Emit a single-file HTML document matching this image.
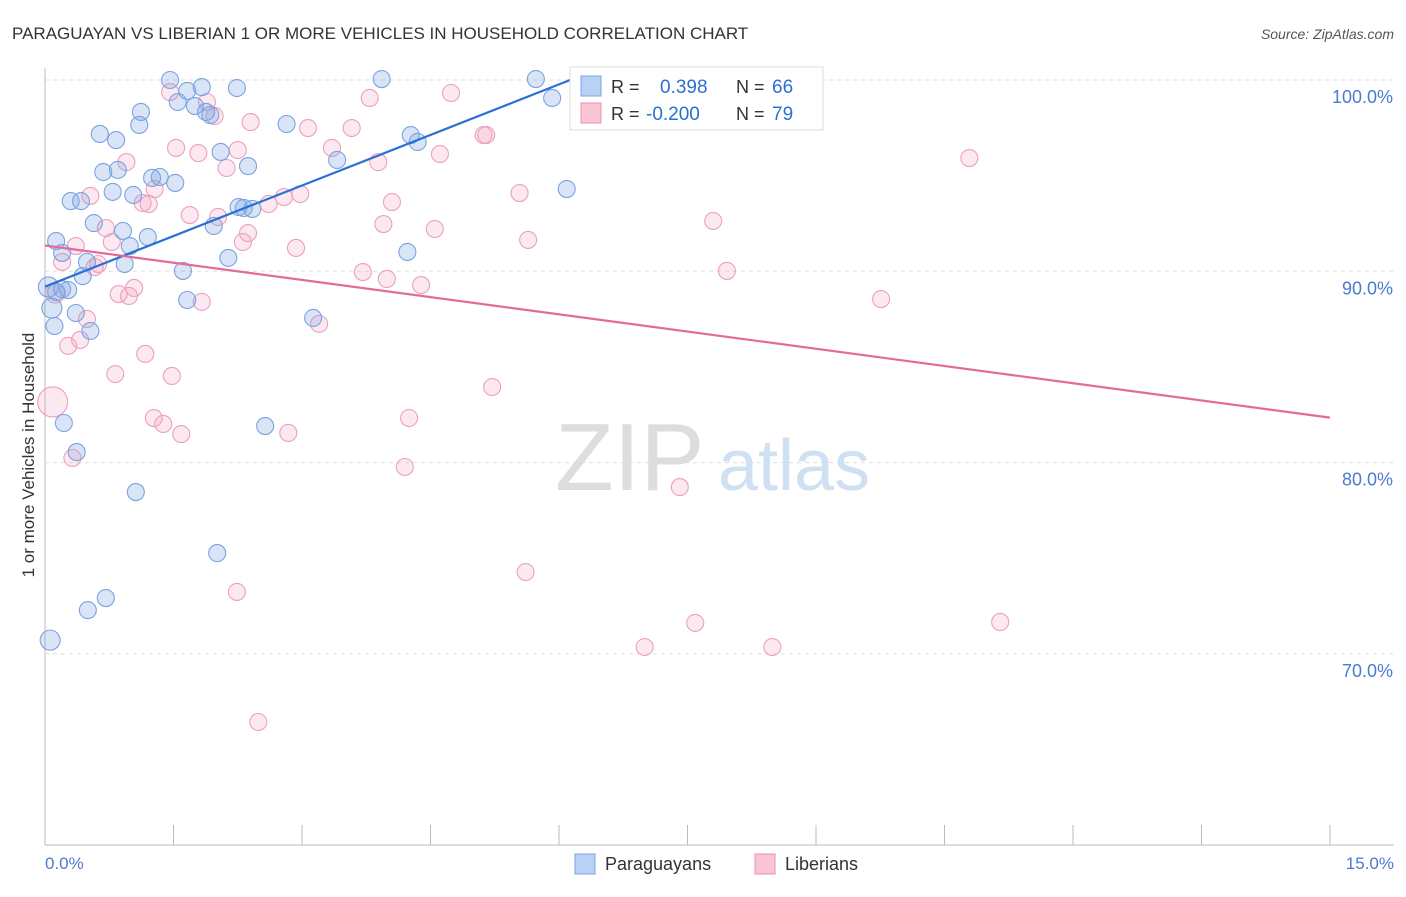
<!DOCTYPE html>
<html><head><meta charset="utf-8"><style>
body{margin:0;background:#fff;font-family:"Liberation Sans",sans-serif}
svg text{font-family:"Liberation Sans",sans-serif}
</style></head><body>
<svg id="chart" width="1406" height="892" xmlns="http://www.w3.org/2000/svg">
<text x="12" y="39" font-size="17" fill="#333">PARAGUAYAN VS LIBERIAN 1 OR MORE VEHICLES IN HOUSEHOLD CORRELATION CHART</text>
<text x="1394" y="39" font-size="14" fill="#555" font-style="italic" text-anchor="end">Source: ZipAtlas.com</text>
<g id="grid"></g>
<g>
<text x="555" y="490" font-size="96" fill="#ddd" font-family="Liberation Serif">ZIP</text>
<text x="718" y="490" font-size="72" fill="#cfe0f3">atlas</text>
</g>
<g id="pts"></g>
<g id="lines"></g>
<text transform="translate(34,455) rotate(-90)" font-size="17" fill="#333" text-anchor="middle">1 or more Vehicles in Household</text>
<text x="45" y="869" font-size="17" fill="#4a7bd0">0.0%</text>
<text x="1394" y="869" font-size="17" fill="#4a7bd0" text-anchor="end">15.0%</text>
<g>
<rect x="570" y="67" width="253" height="63" fill="#fff" stroke="#ddd"/>
<rect x="581" y="76" width="20" height="20" fill="#b8d1f5" stroke="#7aa3e0"/>
<rect x="581" y="103" width="20" height="20" fill="#f9c5d5" stroke="#e890b0"/>
<text x="611" y="93" font-size="18" fill="#333">R = </text><text x="660" y="93" font-size="19" fill="#2a6fd6">0.398</text>
<text x="736" y="93" font-size="18" fill="#333">N = </text><text x="772" y="93" font-size="19" fill="#2a6fd6">66</text>
<text x="611" y="120" font-size="18" fill="#333">R = </text><text x="646" y="120" font-size="19" fill="#2a6fd6">-0.200</text>
<text x="736" y="120" font-size="18" fill="#333">N = </text><text x="772" y="120" font-size="19" fill="#2a6fd6">79</text>
</g>
<g>
<rect x="575" y="854" width="20" height="20" fill="#b8d1f5" stroke="#7aa3e0"/>
<text x="605" y="870" font-size="18" fill="#333">Paraguayans</text>
<rect x="755" y="854" width="20" height="20" fill="#f9c5d5" stroke="#e890b0"/>
<text x="785" y="870" font-size="18" fill="#333">Liberians</text>
</g>
</svg>
<script>
const yTicks=[100,90,80,70];
const xTicks=[0,1.5,3,4.5,6,7.5,9,10.5,12,13.5,15];
const blueX=[1.46,1.83,1.66,2.24,3.93,5.73,6.90,1.55,1.75,1.88,1.93,1.12,1.10,2.82,0.64,0.83,5.92,4.27,4.35,2.05,2.37,3.41,0.68,0.85,1.25,1.34,1.52,6.09,0.79,1.03,0.30,0.42,2.26,2.42,2.32,0.57,1.97,0.91,1.20,0.13,0.99,0.20,4.23,2.14,0.49,0.93,1.61,0.44,0.04,0.20,0.27,0.13,0.08,0.36,1.66,3.13,0.11,0.53,0.22,2.57,0.37,1.06,2.01,0.71,0.50,0.06];
const blueY=[100.0,99.63,99.43,99.58,100.05,100.05,100.05,98.85,98.64,98.33,98.17,98.33,97.65,97.70,97.18,96.86,99.06,97.12,96.76,96.24,95.50,95.82,95.19,95.30,94.88,94.93,94.62,94.30,94.15,93.99,93.67,93.67,93.36,93.26,93.31,92.52,92.37,92.11,91.79,91.58,91.32,90.96,91.01,90.70,90.49,90.38,90.02,89.75,89.18,89.07,89.02,88.92,88.08,87.82,88.50,87.56,87.14,86.88,82.07,81.91,80.55,78.46,75.27,72.92,72.29,70.72];
const pinkX=[1.46,1.89,1.98,3.79,4.74,2.40,3.07,3.58,1.53,1.79,2.25,3.35,0.95,3.89,4.61,5.12,5.15,10.79,2.12,1.28,0.53,1.14,1.21,2.61,2.79,2.98,4.05,5.54,1.69,2.02,3.95,4.55,7.80,0.71,2.37,2.31,0.78,2.93,5.64,0.36,0.20,0.62,0.58,7.96,3.71,3.99,4.39,1.04,0.86,0.98,1.83,9.76,0.12,0.49,3.20,0.41,0.27,1.17,0.82,1.48,5.22,0.09,1.27,1.38,1.59,2.84,4.25,0.32,4.20,7.41,5.61,2.24,7.59,11.15,7.00,8.49,2.49];
const pinkY=[99.37,98.85,98.12,99.06,99.32,97.80,97.49,97.49,96.45,96.18,96.34,96.45,95.71,95.71,96.13,97.12,97.12,95.92,95.40,94.30,93.94,93.57,93.52,93.52,93.88,94.04,93.62,94.09,92.94,92.84,92.47,92.21,92.63,92.26,92.00,91.53,91.53,91.22,91.64,91.32,90.49,90.38,90.22,90.02,89.96,89.60,89.28,89.13,88.81,88.71,88.40,88.55,88.87,87.51,87.25,86.41,86.10,85.68,84.63,84.53,83.95,83.17,82.33,82.02,81.49,81.55,82.33,80.24,79.77,78.72,74.28,73.24,71.62,71.67,70.36,70.36,66.44];
const blueTrendX=[0,6.13];
const blueTrendY=[89.2,100];
const pinkTrendX=[0,15];
const pinkTrendY=[91.35,82.35];
const NS='http://www.w3.org/2000/svg';
const X=v=>45+v*(1285/15);
const Y=v=>80+(100-v)*19.13;
function mk(t,a,p){const e=document.createElementNS(NS,t);for(const k in a)e.setAttribute(k,a[k]);p.appendChild(e);return e;}
const g=document.getElementById('grid');
mk('line',{x1:45,y1:68,x2:45,y2:845,stroke:'#bbb'},g);
mk('line',{x1:45,y1:845,x2:1394,y2:845,stroke:'#bbb'},g);
yTicks.forEach(t=>{
 const l=mk('line',{x1:45,y1:Y(t),x2:1394,y2:Y(t),stroke:'#ddd','stroke-dasharray':'4,4'},g);
 
 
 const tx=mk('text',{x:1393,y:Y(t)+23,'font-size':18,fill:'#4a7bd0','text-anchor':'end'},g);
 tx.textContent=t.toFixed(1)+'%';
 
 
});
xTicks.forEach(t=>{
 const l=mk('line',{x1:X(t),y1:825,x2:X(t),y2:845,stroke:'#bbb'},g);
 
 
});
const p=document.getElementById('pts');
function dots(xs,ys,fill,stroke,name,big){xs.forEach((x,i)=>{
 const r=(big[i]||8.5);
 const c=mk('circle',{cx:X(x),cy:Y(ys[i]),r:r,fill:fill,stroke:stroke,'stroke-width':1.1},p);
 
 
});}
dots(pinkX,pinkY,'rgba(245,165,195,0.25)','#eda0bc','liberian-point',{61:15,52:10});
dots(blueX,blueY,'rgba(120,160,225,0.28)','#7aa3e0','paraguayan-point',{65:10,48:10,52:10});
const L=document.getElementById('lines');
const b=mk('line',{x1:X(blueTrendX[0]),y1:Y(blueTrendY[0]),x2:X(blueTrendX[1]),y2:Y(blueTrendY[1]),stroke:'#2a6fd6','stroke-width':2.2},L);


const pk=mk('line',{x1:X(pinkTrendX[0]),y1:Y(pinkTrendY[0]),x2:X(pinkTrendX[1]),y2:Y(pinkTrendY[1]),stroke:'#e36b97','stroke-width':2.2},L);


</script>
</body></html>
